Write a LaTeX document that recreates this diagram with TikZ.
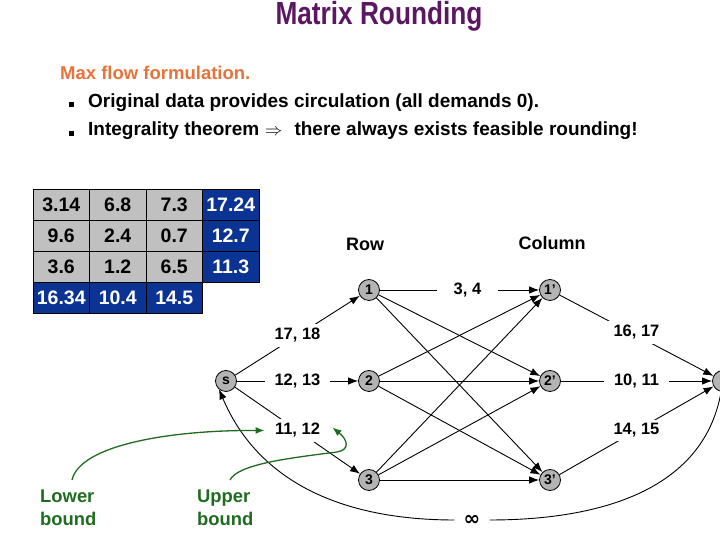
\documentclass[tikz,border=0pt]{standalone}
\usepackage{fontspec}
\setmainfont{Liberation Sans}
\newfontfamily\symfont{DejaVu Sans}
\usepackage{graphicx}
\usetikzlibrary{arrows.meta,calc}
\definecolor{titlepurple}{HTML}{5C1763}
\definecolor{headorange}{HTML}{E8733A}
\definecolor{cellgray}{HTML}{C0C0C0}
\definecolor{cellblue}{HTML}{0B3394}
\definecolor{nodegray}{HTML}{B4B4B4}
\definecolor{notegreen}{HTML}{1F6B1F}
\begin{document}
\begin{tikzpicture}[x=1pt,y=1pt,
  cell/.style={draw=black, line width=0.6pt, minimum width=56.5pt, minimum height=31pt, inner sep=0pt, font=\fontsize{19.5}{19.5}\selectfont\bfseries},
  gcell/.style={cell, fill=cellgray},
  bcell/.style={cell, fill=cellblue, text=white},
  vtx/.style={circle, draw=black, line width=0.8pt, fill=nodegray, minimum size=21pt, inner sep=0pt, font=\fontsize{14}{14}\selectfont\bfseries},
  arr/.style={line width=0.9pt, -{Latex[length=10pt,width=7.5pt]}},
  elab/.style={fill=white, inner xsep=10pt, inner ysep=4pt, font=\fontsize{16.5}{16.5}\selectfont\bfseries},
  gnote/.style={text=notegreen, align=left, inner sep=0pt, anchor=north west, font=\fontsize{18.4}{23}\selectfont\bfseries},
  garr/.style={draw=notegreen, line width=1.3pt, -{Latex[length=9pt,width=7pt]}},
  head/.style={font=\fontsize{18}{18}\selectfont\bfseries},
  bodytext/.style={anchor=base west, inner sep=0pt, font=\fontsize{19}{19}\selectfont\bfseries}
]
\useasboundingbox (0,0) rectangle (720,540);
\clip (0,0) rectangle (720,540);

% title and text
\node[anchor=base, inner sep=0pt, text=titlepurple, font=\fontsize{32}{32}\selectfont\bfseries] (title) at (379,515) {\scalebox{0.82}[1]{Matrix Rounding}};
\node[anchor=base west, inner sep=0pt, text=headorange, font=\fontsize{18.5}{18.5}\selectfont\bfseries] (sub) at (60,460) {Max flow formulation.};
\fill (69,433) rectangle (74,438);
\node[bodytext] (b1) at (88,432) {Original data provides circulation (all demands 0).};
\fill (69,404) rectangle (74,409);
\node[bodytext] (b2) at (88,404) {Integrality theorem\hspace{6pt}$\Rightarrow$\hspace{12pt}there always exists feasible rounding!};

% table
\node[gcell] (c11) at (61.25,335.5) {3.14};
\node[gcell] (c12) at (117.75,335.5) {6.8};
\node[gcell] (c13) at (174.25,335.5) {7.3};
\node[bcell] (c14) at (230.75,335.5) {17.24};
\node[gcell] (c21) at (61.25,304.5) {9.6};
\node[gcell] (c22) at (117.75,304.5) {2.4};
\node[gcell] (c23) at (174.25,304.5) {0.7};
\node[bcell] (c24) at (230.75,304.5) {12.7};
\node[gcell] (c31) at (61.25,273.5) {3.6};
\node[gcell] (c32) at (117.75,273.5) {1.2};
\node[gcell] (c33) at (174.25,273.5) {6.5};
\node[bcell] (c34) at (230.75,273.5) {11.3};
\node[bcell] (c41) at (61.25,242.5) {16.34};
\node[bcell] (c42) at (117.75,242.5) {10.4};
\node[bcell] (c43) at (174.25,242.5) {14.5};

% headings
\node[head] (rowh) at (365,296) {Row};
\node[head] (colh) at (552,297) {Column};

% vertices
\node[vtx] (s) at (226,159) {s};
\node[vtx] (n1) at (369,250) {1};
\node[vtx] (n2) at (369,159) {2};
\node[vtx] (n3) at (369,60) {3};
\node[vtx] (m1) at (550,250) {1'};
\node[vtx] (m2) at (550,159) {2'};
\node[vtx] (m3) at (550,60) {3'};
\node[vtx] (t) at (723,159) {};

% cross edges
\draw[arr] (n1) -- (m2);
\draw[arr] (n1) -- (m3);
\draw[arr] (n2) -- (m1);
\draw[arr] (n2) -- (m2);
\draw[arr] (n2) -- (m3);
\draw[arr] (n3) -- (m1);
\draw[arr] (n3) -- (m2);
\draw[arr] (n3) -- (m3);

% labelled edges
\draw[arr] (s) -- node[elab] (lab1) {17, 18} (n1);
\draw[arr] (s) -- node[elab] (lab2) {12, 13} (n2);
\draw[arr] (s) -- node[elab] (lab3) {11, 12} (n3);
\draw[arr] (n1) -- node[elab, pos=0.55, inner xsep=17pt] (lab4) {3, 4} (m1);
\draw[arr] (m1) -- node[elab, yshift=3pt] (lab5) {16, 17} (t);
\draw[arr] (m2) -- node[elab] (lab6) {10, 11} (t);
\draw[arr] (m3) -- node[elab] (lab7) {14, 15} (t);

% return edge
\node[fill=white, inner xsep=9pt, inner ysep=2pt, font=\fontsize{20}{20}\symfont\bfseries] (inf) at (472,20) {∞};
\draw[line width=0.9pt] (t) to[out=-100,in=0] (inf);
\draw[arr] (inf) to[out=180,in=-67] (s.-130);

% annotations
\node[gnote] (lower) at (40,50) {Lower\\bound};
\node[gnote] (upper) at (197,50) {Upper\\bound};
\draw[garr] ($(lower.north west)+(32,10)$) .. controls (80,95) and (170,110) .. (lab3.west);
\draw[garr] ($(upper.north west)+(33,10)$) .. controls (238,76) and (290,82) .. (337,88) .. controls (350,90) and (348,100) .. ($(lab3.east)+(2,3)$);
\end{tikzpicture}
\end{document}
